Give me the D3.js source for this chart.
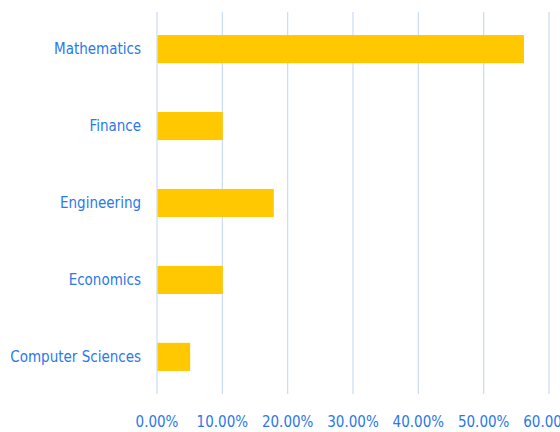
<!DOCTYPE html>
<html>
<head>
<meta charset="utf-8">
<script src="https://cdn.jsdelivr.net/npm/d3@7"></script>
<style>
  body { margin: 0; background: #fff; }
  svg { display: block; }
  text { font-family: "Liberation Sans Narrow", "DejaVu Sans Condensed", "Open Sans", sans-serif; fill: #2a78ea; }
</style>
</head>
<body>
<div id="chart"></div>
<script>
// categories top to bottom
var subjects = ["Mathematics", "Finance", "Engineering", "Economics", "Computer Sciences"];
var shares = [0.561, 0.10, 0.178, 0.10, 0.05];
var tickValues = [0, 0.1, 0.2, 0.3, 0.4, 0.5, 0.6];

var width = 560, height = 432;
var margin = {top: 12, right: 11, bottom: 38, left: 157};

var svg = d3.select("#chart").append("svg")
    .attr("width", width)
    .attr("height", height);

var x = d3.scaleLinear()
    .domain([0, 0.6])
    .range([margin.left, width - margin.right]);

var y = d3.scaleBand()
    .domain(subjects)
    .range([margin.top, height - margin.bottom])
    .paddingInner(0.635)
    .paddingOuter(0.3);

// vertical gridlines
svg.append("g")
    .selectAll("line")
    .data(tickValues)
    .enter().append("line")
    .attr("x1", d => x(d))
    .attr("x2", d => x(d))
    .attr("y1", margin.top)
    .attr("y2", height - margin.bottom)
    .attr("stroke", "#c9dcf6")
    .attr("stroke-width", 1.2);

svg.append("g")
    .selectAll("rect")
    .data(subjects)
    .enter().append("rect")
    .attr("x", x(0) + 0.5)
    .attr("y", d => y(d))
    .attr("height", y.bandwidth())
    .attr("width", (d, i) => x(shares[i]) - x(0))
    .attr("fill", "#ffc800");

// category labels
svg.append("g")
    .selectAll("text")
    .data(subjects)
    .enter().append("text")
    .attr("x", margin.left - 16)
    .attr("y", d => y(d) + y.bandwidth() / 2)
    .attr("dy", "0.35em")
    .attr("text-anchor", "end")
    .style("font-size", "15px")
    .text(d => d);

// x tick labels
var fmt = d3.format(".2%");
svg.append("g")
    .selectAll("text")
    .data(tickValues)
    .enter().append("text")
    .attr("x", d => x(d))
    .attr("y", 427)
    .attr("text-anchor", "middle")
    .style("font-size", "15px")
    .text(d => fmt(d));
</script>
</body>
</html>
